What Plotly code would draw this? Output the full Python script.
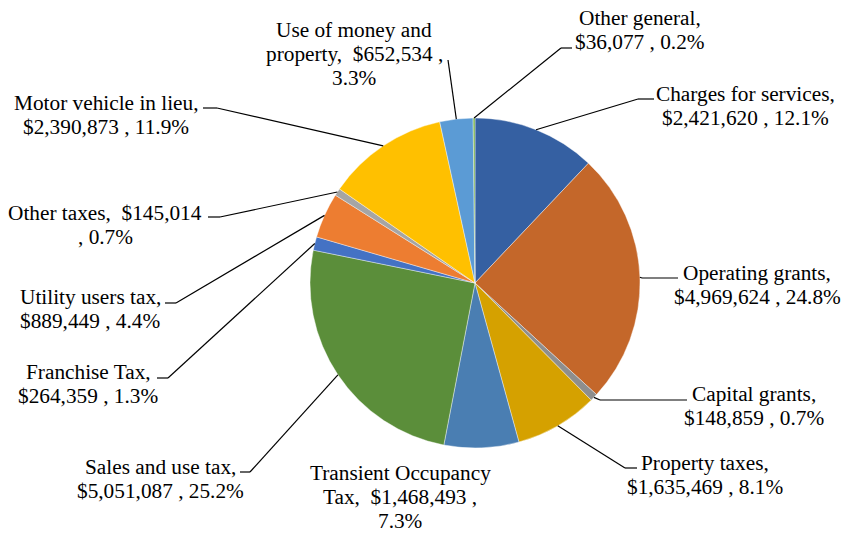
import math
import plotly.graph_objects as go

# ---- data ----
categories = ["Charges for services", "Operating grants", "Capital grants", "Property taxes",
              "Transient Occupancy Tax", "Sales and use tax", "Franchise Tax", "Utility users tax",
              "Other taxes", "Motor vehicle in lieu", "Use of money and property", "Other general"]
values = [2421620, 4969624, 148859, 1635469, 1468493, 5051087, 264359, 889449,
          145014, 2390873, 652534, 36077]
colors = ["#3560A2", "#C4672A", "#8E8E8E", "#D5A100", "#4A7EB2", "#5B8E3A",
          "#4472C4", "#ED7D31", "#A5A5A5", "#FFC000", "#5B9BD5", "#70AD47"]

W, H = 841, 533
CX, CY, R = 475, 283, 165
FONT = dict(family="Liberation Serif", size=21.3, color="black")

total = sum(values)
pct = [v / total * 100 for v in values]

def money(v):
    return "${:,}".format(v)

label_lines = [
    [categories[0] + ",", f"{money(values[0])} , {pct[0]:.1f}%"],
    [categories[1] + ",", f"{money(values[1])} , {pct[1]:.1f}%"],
    [categories[2] + ",", f"{money(values[2])} , {pct[2]:.1f}%"],
    [categories[3] + ",", f"{money(values[3])} , {pct[3]:.1f}%"],
    ["Transient Occupancy", f"Tax,  {money(values[4])} ,", f"{pct[4]:.1f}%"],
    [categories[5] + ",", f"{money(values[5])} , {pct[5]:.1f}%"],
    [categories[6] + ",", f"{money(values[6])} , {pct[6]:.1f}%"],
    [categories[7] + ",", f"{money(values[7])} , {pct[7]:.1f}%"],
    [f"{categories[8]},  {money(values[8])}", f", {pct[8]:.1f}%"],
    [categories[9] + ",", f"{money(values[9])} , {pct[9]:.1f}%"],
    ["Use of money and", f"property,  {money(values[10])} ,", f"{pct[10]:.1f}%"],
    [categories[11] + ",", f"{money(values[11])} , {pct[11]:.1f}%"],
]
label_cx = [745, 757, 754, 705, 400, 160, 88, 90, 105, 106, 354, 640]
label_y0 = [94, 273, 394, 463, 473, 467, 372, 297, 213, 103, 30, 18]
LINE_GAP = 24
leader = [((654, 99), (638, 99)), ((678, 278), (642, 278)), ((687, 400), (600, 400)),
          ((637, 468), (625, 468)), None, ((240, 472), (250, 472)), ((157, 378), (168, 378)),
          ((165, 303), (176, 303)), ((208, 217), (220, 217)), ((203, 108), (217, 108)),
          ((448, 60), (448, 60)), ((572, 48), (561, 48))]

def px(x):
    return x / W

def py(y):
    return 1 - y / H

fig = go.Figure(go.Pie(
    labels=categories, values=values, sort=False, direction="clockwise", rotation=0,
    marker=dict(colors=colors, line=dict(color="white", width=0.4)),
    textinfo="none", hoverinfo="label+value+percent", showlegend=False,
    domain=dict(x=[px(CX - R), px(CX + R)], y=[py(CY + R), py(CY - R)]),
))

annotations = []
shapes = []
cum = 0.0
for i, v in enumerate(values):
    mid = (cum + v / 2) / total * 2 * math.pi
    cum += v
    ex, ey = CX + R * math.sin(mid), CY - R * math.cos(mid)
    for k, line in enumerate(label_lines[i]):
        annotations.append(dict(x=px(label_cx[i]), y=py(label_y0[i] + k * LINE_GAP), xref="paper",
                                yref="paper", text=line, showarrow=False, xanchor="center",
                                yanchor="middle", font=FONT))
    if leader[i] is not None:
        (sx, sy), (bx, by) = leader[i]
        for (x0, y0, x1, y1) in [(sx, sy, bx, by), (bx, by, ex, ey)]:
            if (x0, y0) != (x1, y1):
                shapes.append(dict(type="line", xref="paper", yref="paper",
                                   x0=px(x0), y0=py(y0), x1=px(x1), y1=py(y1),
                                   line=dict(color="black", width=1.2)))

fig.update_layout(width=W, height=H, margin=dict(l=0, r=0, t=0, b=0),
                  paper_bgcolor="white", plot_bgcolor="white",
                  annotations=annotations, shapes=shapes)
fig.write_html("out.html", config={"displayModeBar": False},
               post_script="document.body.style.margin='0';"
               "document.body.style.overflow='hidden';")
